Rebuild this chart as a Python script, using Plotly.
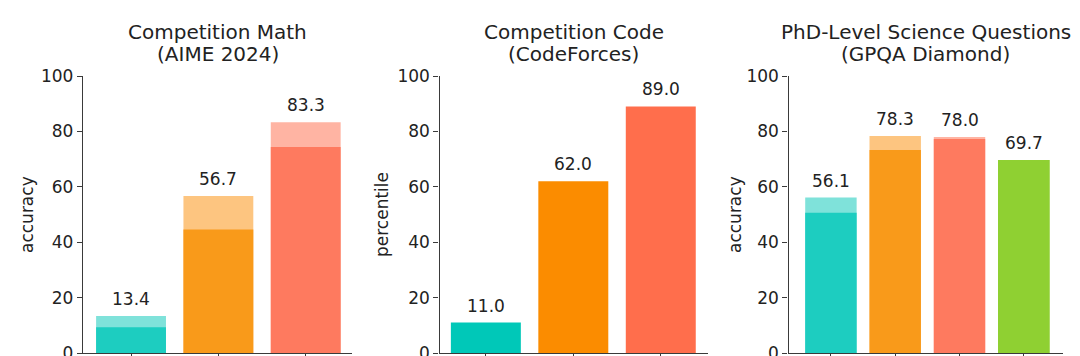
import plotly.graph_objects as go

# ---- data ----
math_models = ["GPT-4o", "o1-preview", "o1"]
math_pass1 = [9.3, 44.6, 74.4]
math_cons = [13.4, 56.7, 83.3]

code_models = ["GPT-4o", "o1-preview", "o1"]
code_vals = [11.0, 62.0, 89.0]

gpqa_models = ["GPT-4o", "o1-preview", "o1", "expert human"]
gpqa_pass1 = [50.6, 73.3, 77.3, 69.7]
gpqa_cons = [56.1, 78.3, 78.0, 69.7]

titles = [("Competition Math", "(AIME 2024)"),
          ("Competition Code", "(CodeForces)"),
          ("PhD-Level Science Questions", "(GPQA Diamond)")]
ylabels = ["accuracy", "percentile", "accuracy"]
ytick_vals = [0, 20, 40, 60, 80, 100]

# ---- styling ----
dark_math = ["#1dcdc0", "#f99a1a", "#fe7a5f"]
light_math = ["#7fe2da", "#fdc580", "#ffb4a3"]
code_cols = ["#00c8b8", "#fb8c00", "#ff6e4c"]
dark_gpqa = ["#1dcdc0", "#f99a1a", "#fe7a5f", "#8fd032"]
light_gpqa = ["#7fe2da", "#fdc580", "#ffb4a3", "#8fd032"]

W, H = 1080, 356
MB = 3
PH = H - MB  # plot area height in px

def px_x(x):
    return x / W

def px_y(y):
    return (PH - y) / PH

y_top_px, y_bot_px = 76, 353
ydom = [px_y(y_bot_px), px_y(y_top_px)]
xdoms = [[px_x(83), px_x(352)], [px_x(439.5), px_x(708)], [px_x(788.5), px_x(1063)]]
xranges = [[-0.55, 2.53], [-0.53, 2.54], [-0.66, 3.61]]
ylab_x = [27, 382, 735]

fig = go.Figure()
font = "DejaVu Sans"
axcol = "#3a3a3a"
txtcol = "#222222"

# panel 1
fig.add_trace(go.Bar(x=math_models, y=math_cons, marker_color=light_math, width=0.8,
                     xaxis="x", yaxis="y", showlegend=False, marker_line_width=0))
fig.add_trace(go.Bar(x=math_models, y=math_pass1, marker_color=dark_math, width=0.8,
                     xaxis="x", yaxis="y", showlegend=False, marker_line_width=0))
# panel 2
fig.add_trace(go.Bar(x=code_models, y=code_vals, marker_color=code_cols, width=0.8,
                     xaxis="x2", yaxis="y2", showlegend=False, marker_line_width=0))
# panel 3
fig.add_trace(go.Bar(x=gpqa_models, y=gpqa_cons, marker_color=light_gpqa, width=0.8,
                     xaxis="x3", yaxis="y3", showlegend=False, marker_line_width=0))
fig.add_trace(go.Bar(x=gpqa_models, y=gpqa_pass1, marker_color=dark_gpqa, width=0.8,
                     xaxis="x3", yaxis="y3", showlegend=False, marker_line_width=0))

annotations = []
panels = [(math_models, math_cons), (code_models, code_vals), (gpqa_models, gpqa_cons)]
for i, (cats, vals) in enumerate(panels):
    sfx = "" if i == 0 else str(i + 1)
    for c, v in zip(cats, vals):
        annotations.append(dict(x=c, y=v, xref="x" + sfx, yref="y" + sfx,
                                text=f"{v:.1f}", showarrow=False, yanchor="bottom",
                                yshift=5, font=dict(family=font, size=17, color=txtcol)))
    cx = (xdoms[i][0] + xdoms[i][1]) / 2
    annotations.append(dict(x=cx, y=px_y(32), xref="paper", yref="paper", text=titles[i][0],
                            showarrow=False, xanchor="center", yanchor="middle",
                            font=dict(family=font, size=20, color=txtcol)))
    annotations.append(dict(x=cx, y=px_y(54), xref="paper", yref="paper", text=titles[i][1],
                            showarrow=False, xanchor="center", yanchor="middle",
                            font=dict(family=font, size=20, color=txtcol)))
    annotations.append(dict(x=px_x(ylab_x[i]), y=px_y(215), xref="paper", yref="paper",
                            text=ylabels[i], textangle=-90, showarrow=False,
                            xanchor="center", yanchor="middle",
                            font=dict(family=font, size=17, color=txtcol)))

layout = dict(
    width=W, height=H, barmode="overlay", bargap=0.2,
    margin=dict(l=0, r=0, t=0, b=MB, autoexpand=False),
    paper_bgcolor="white", plot_bgcolor="white",
    annotations=annotations,
    font=dict(family=font, color=txtcol),
)
for i in range(3):
    sfx = "" if i == 0 else str(i + 1)
    layout["xaxis" + sfx] = dict(domain=xdoms[i], range=xranges[i], anchor="y" + sfx,
                                 showline=True, linecolor=axcol, linewidth=1.3,
                                 ticks="outside", ticklen=4, tickcolor=axcol, tickwidth=1.2,
                                 showticklabels=False, showgrid=False, zeroline=False,
                                 automargin=False, fixedrange=True)
    layout["yaxis" + sfx] = dict(domain=ydom, range=[0, 100], anchor="x" + sfx,
                                 tickvals=ytick_vals, showline=True, linecolor=axcol,
                                 linewidth=1.3, ticks="outside", ticklen=5, tickcolor=axcol,
                                 tickwidth=1.2, showgrid=False, zeroline=False,
                                 tickfont=dict(family=font, size=17, color=txtcol),
                                 ticklabeloverflow="allow",
                                 automargin=False, fixedrange=True)
fig.update_layout(**layout)
fig.write_html("out.html", config={"displayModeBar": False},
               post_script="document.body.style.margin='0';document.body.style.overflow='hidden';")
